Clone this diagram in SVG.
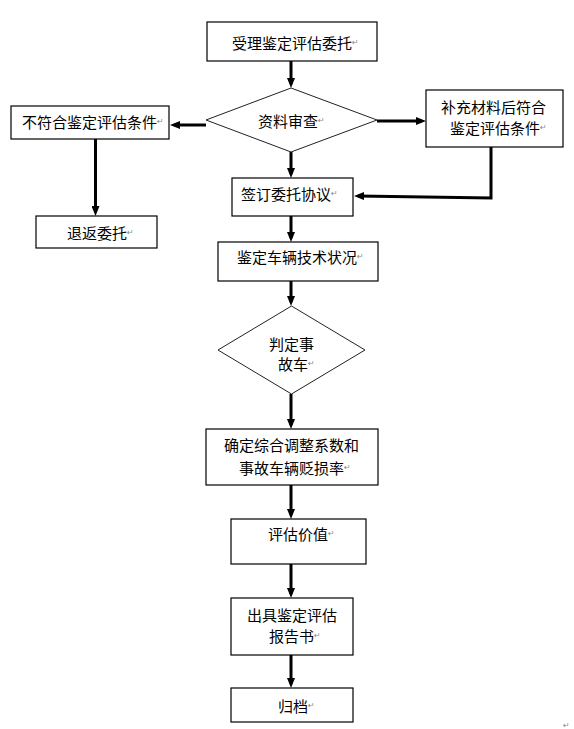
<svg xmlns="http://www.w3.org/2000/svg" width="574" height="729" viewBox="0 0 574 729">
<defs>
<marker id="ah" markerUnits="userSpaceOnUse" markerWidth="10" markerHeight="8" refX="6" refY="4" orient="auto">
<path d="M0,0 L10,4 L0,8 z" fill="#000"/>
</marker>
<style>
.box{fill:#fff;stroke:#000;stroke-width:1.2}
.dia{fill:#fff;stroke:#222;stroke-width:1}
.t{font-family:"Noto Sans CJK SC","Liberation Sans",sans-serif;font-size:15px;fill:#000;dominant-baseline:central}
.r{font-family:"DejaVu Sans",sans-serif;font-size:8px;fill:#888}
.c{fill:none;stroke:#000;stroke-width:3;marker-end:url(#ah)}
</style>
</defs>
<rect width="574" height="729" fill="#fff"/>
<g id="connectors">
<line class="c" x1="291" y1="61" x2="291" y2="84"/>
<line class="c" x1="206" y1="125" x2="174" y2="125"/>
<line class="c" x1="95.5" y1="139" x2="95.5" y2="212"/>
<line class="c" x1="377" y1="121" x2="422" y2="121"/>
<polyline class="c" points="491,147 491,198 358,196"/>
<line class="c" x1="291" y1="152" x2="291" y2="174"/>
<line class="c" x1="291" y1="216" x2="291" y2="238"/>
<line class="c" x1="291" y1="281" x2="291" y2="302"/>
<line class="c" x1="291" y1="394" x2="291" y2="425"/>
<line class="c" x1="291" y1="485" x2="291" y2="515"/>
<line class="c" x1="291" y1="564" x2="291" y2="594"/>
<line class="c" x1="291" y1="655" x2="291" y2="684"/>
</g>
<g id="n-accept">
<rect class="box" x="207" y="22" width="170" height="39"/>
<text class="t" x="232" y="42">受理鉴定评估委托<tspan class="r">↵</tspan></text>
</g>
<g id="n-review">
<polygon class="dia" points="291,88 377,120 291,152 206,120"/>
<text class="t" x="258" y="120">资料审查<tspan class="r">↵</tspan></text>
</g>
<g id="n-reject">
<rect class="box" x="11" y="106" width="158" height="33"/>
<text class="t" x="22" y="121">不符合鉴定评估条件<tspan class="r">↵</tspan></text>
</g>
<g id="n-return">
<rect class="box" x="36" y="216" width="121" height="32"/>
<text class="t" x="67" y="232">退返委托<tspan class="r">↵</tspan></text>
</g>
<g id="n-supplement">
<rect class="box" x="426" y="90" width="137" height="57"/>
<text class="t" x="441" y="106">补充材料后符合</text>
<text class="t" x="450" y="127">鉴定评估条件<tspan class="r">↵</tspan></text>
</g>
<g id="n-sign">
<rect class="box" x="232" y="178" width="121" height="38"/>
<text class="t" x="241" y="193">签订委托协议<tspan class="r">↵</tspan></text>
</g>
<g id="n-inspect">
<rect class="box" x="218" y="242" width="160" height="39"/>
<text class="t" x="237" y="256">鉴定车辆技术状况<tspan class="r">↵</tspan></text>
</g>
<g id="n-judge">
<polygon class="dia" points="291.5,306 365,350 291.5,394 218,350"/>
<text class="t" x="269" y="343">判定事</text>
<text class="t" x="278" y="363">故车<tspan class="r">↵</tspan></text>
</g>
<g id="n-coef">
<rect class="box" x="206" y="429" width="172" height="56"/>
<text class="t" x="224" y="444">确定综合调整系数和</text>
<text class="t" x="239" y="467">事故车辆贬损率<tspan class="r">↵</tspan></text>
</g>
<g id="n-value">
<rect class="box" x="231" y="519" width="135" height="45"/>
<text class="t" x="268" y="533">评估价值<tspan class="r">↵</tspan></text>
</g>
<g id="n-report">
<rect class="box" x="231" y="598" width="122" height="57"/>
<text class="t" x="247" y="614">出具鉴定评估</text>
<text class="t" x="269" y="635">报告书<tspan class="r">↵</tspan></text>
</g>
<g id="n-archive">
<rect class="box" x="231" y="688" width="122" height="34"/>
<text class="t" x="278" y="705">归档<tspan class="r">↵</tspan></text>
</g>
<text class="r" x="563" y="728">↵</text>
</svg>
